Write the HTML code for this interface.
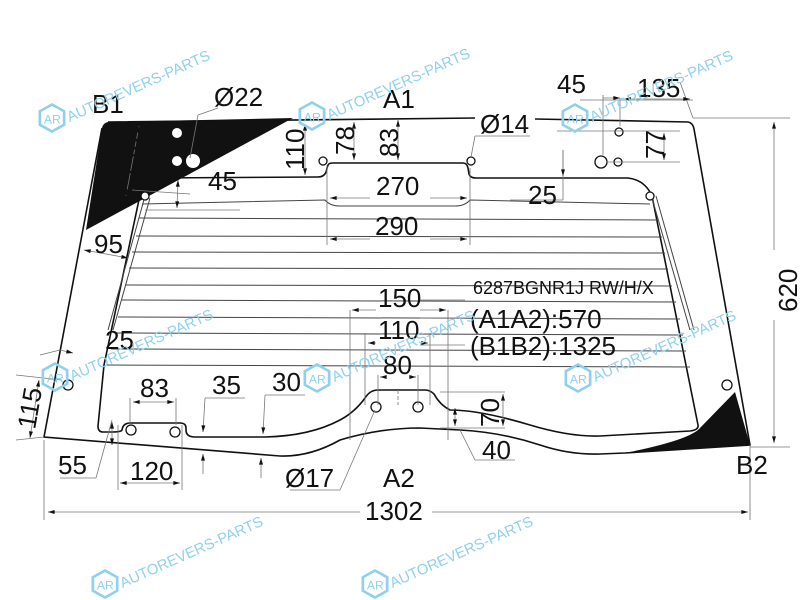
<!DOCTYPE html>
<html><head><meta charset="utf-8"><style>
html,body{margin:0;padding:0;background:#fff;width:800px;height:600px;overflow:hidden}
svg{display:block;overflow:hidden}
text{font-family:"Liberation Sans",Arial,sans-serif;fill:#111}
.d{stroke:#777;stroke-width:0.8;fill:none}
.m{stroke:#111;stroke-width:1.6;fill:none}
.h{stroke:#444;stroke-width:1;fill:none}
.w{fill:#8fd0ee;font-size:11px}
</style></head><body>
<svg width="800" height="600" viewBox="0 0 800 600" xmlns="http://www.w3.org/2000/svg">
<defs>
<marker id="a" viewBox="0 0 10 6" refX="10" refY="3" markerWidth="9" markerHeight="5" orient="auto-start-reverse"><path d="M0,0 L10,3 L0,6z" fill="#111"/></marker>
<g id="wm"><g transform="scale(1.35)"><polygon points="0,-10 9,-5 9,5 0,10 -9,5 -9,-5" fill="none" stroke="#8fd0ee" stroke-width="2"/><text x="-6" y="4" class="w" style="font-size:9px">AR</text><text x="13" y="3" class="w" transform="rotate(-24 13 3)">AUTOREVERS-PARTS</text></g></g>
</defs>
<path d="M108,122 L293,118 L86,230 L102,128 Q103,123 108,122z" fill="#111"/>
<path d="M735,392 L750,445 L625,453 Q690,440 700,428z" fill="#111"/>

<path class="m" d="M108,122 L475,118 M535,119 L688,122 Q693,123 694,129 L750,445 L625,453 L600,454 Q570,455 540,445 Q500,432 460,430 L420,428 Q380,428 340,440 Q310,457 280,456 L44,437 L102,128"/>
<path class="m" d="M150,178 L318,177 Q326,177 327,168 L328,165 Q329,163 333,163 L463,163 Q467,163 468,168 L469,174 Q470,178 476,178 L628,178 Q645,180 652,196 L698,425 Q699,430 690,431 L600,436 Q570,437 530,425 Q480,410 450,410 Q440,405 434,394 Q430,390 425,390 L378,390 Q370,390 365,398 Q355,412 340,420 Q310,436 265,437 L195,437 Q186,437 186,430 L186,428 Q186,423 180,423 L130,423 Q123,423 122,430 Q121,432 112,432 L103,432 Q98,432 98,426 L104,365 L140,195 Q143,185 150,178"/>
<path class="h" d="M145,196 L108,330 M150,198 L113,330"/>
<path class="h" d="M652,198 L690,330 M656,196 L694,330"/>
<path class="h" d="M142,204 L325,200 Q330,206 340,206 L455,206 Q465,206 470,200 L650,204"/>
<g class="h">
<line x1="139" y1="218" x2="657" y2="220"/>
<line x1="136" y1="236" x2="662" y2="237"/>
<line x1="132" y1="252" x2="665" y2="253"/>
<line x1="129" y1="268" x2="668" y2="269"/>
<line x1="125" y1="285" x2="672" y2="286"/>
<line x1="122" y1="300" x2="676" y2="302"/>
<line x1="118" y1="317" x2="680" y2="319"/>
<line x1="115" y1="333" x2="683" y2="335"/>
<line x1="111" y1="349" x2="686" y2="351"/>
<line x1="107" y1="365" x2="690" y2="367"/>
</g>

<g fill="#fff" stroke="#111" stroke-width="1.3">
<circle cx="323" cy="161" r="4"/><circle cx="471" cy="161" r="4"/>
<circle cx="619" cy="132" r="4"/><circle cx="601" cy="162" r="6"/><circle cx="618" cy="162" r="4"/>
<circle cx="68" cy="385" r="5"/><circle cx="131" cy="430" r="5"/><circle cx="175" cy="432" r="5"/>
<circle cx="376" cy="407" r="5"/><circle cx="418" cy="407" r="5"/><circle cx="727" cy="385" r="5"/>
<circle cx="145" cy="196" r="4"/><circle cx="650" cy="196" r="4"/>
</g>
<g fill="#fff"><circle cx="177" cy="133" r="5"/><circle cx="177" cy="161" r="5"/><circle cx="193" cy="161" r="7"/></g>

<g class="d">
<line x1="44" y1="440" x2="44" y2="520"/><line x1="750" y1="445" x2="750" y2="520"/>
<line x1="693" y1="118" x2="790" y2="118"/><line x1="750" y1="447" x2="790" y2="447"/>
<line x1="680" y1="82" x2="693" y2="118"/><line x1="580" y1="100" x2="693" y2="100"/>
<line x1="603" y1="95" x2="603" y2="155"/><line x1="620" y1="98" x2="620" y2="126"/>
<line x1="557" y1="131" x2="680" y2="131"/><line x1="606" y1="162" x2="680" y2="162"/>
<line x1="327" y1="165" x2="327" y2="245"/><line x1="470" y1="168" x2="470" y2="245"/>
<line x1="563" y1="150" x2="563" y2="200"/><line x1="510" y1="200" x2="563" y2="200"/>
<line x1="132" y1="190" x2="190" y2="194"/><line x1="145" y1="210" x2="240" y2="210"/>
<line x1="350" y1="310" x2="350" y2="440"/><line x1="448" y1="310" x2="448" y2="440"/>
<line x1="365" y1="333" x2="365" y2="405"/><line x1="430" y1="333" x2="430" y2="405"/>
<line x1="378" y1="375" x2="378" y2="405"/><line x1="418" y1="375" x2="418" y2="405"/>
<line x1="398" y1="390" x2="398" y2="405" stroke-dasharray="4 2"/>
<line x1="440" y1="392" x2="505" y2="392"/><line x1="440" y1="428" x2="505" y2="428"/>
<line x1="460" y1="430" x2="475" y2="460"/><line x1="475" y1="460" x2="515" y2="460"/>
<line x1="130" y1="398" x2="130" y2="425"/><line x1="176" y1="398" x2="176" y2="425"/>
<line x1="118" y1="425" x2="118" y2="490"/><line x1="182" y1="425" x2="182" y2="490"/>
<line x1="205" y1="398" x2="245" y2="398"/><line x1="265" y1="395" x2="305" y2="395"/>
<line x1="60" y1="478" x2="96" y2="478"/><line x1="96" y1="478" x2="112" y2="420"/>
<line x1="290" y1="490" x2="340" y2="490"/><line x1="340" y1="490" x2="375" y2="410"/>
<line x1="198" y1="115" x2="218" y2="108"/><line x1="198" y1="115" x2="190" y2="158"/>
<line x1="475" y1="136" x2="530" y2="136"/><line x1="475" y1="136" x2="471" y2="157"/>
<line x1="40" y1="355" x2="60" y2="350"/><line x1="16" y1="440" x2="44" y2="437"/><line x1="16" y1="375" x2="62" y2="380"/>
<line x1="420" y1="300" x2="465" y2="300"/><line x1="420" y1="318" x2="465" y2="318"/>
<line x1="420" y1="345" x2="465" y2="345"/>
</g>
<g class="d" stroke="#444">
<line x1="48" y1="512" x2="360" y2="512" marker-start="url(#a)"/><line x1="432" y1="512" x2="748" y2="512" marker-end="url(#a)"/>
<line x1="774" y1="122" x2="774" y2="250" marker-start="url(#a)"/><line x1="774" y1="320" x2="774" y2="443" marker-end="url(#a)"/>
<line x1="603" y1="98" x2="620" y2="98" marker-end="url(#a)"/><line x1="624" y1="99" x2="690" y2="99" marker-start="url(#a)" marker-end="url(#a)"/>
<line x1="664" y1="133" x2="664" y2="160" marker-start="url(#a)" marker-end="url(#a)"/>
<line x1="305" y1="124" x2="305" y2="175" marker-start="url(#a)" marker-end="url(#a)"/>
<line x1="354" y1="122" x2="354" y2="160" marker-start="url(#a)" marker-end="url(#a)"/>
<line x1="398" y1="120" x2="398" y2="160" marker-start="url(#a)" marker-end="url(#a)"/>
<line x1="330" y1="198" x2="370" y2="198" marker-start="url(#a)"/><line x1="430" y1="198" x2="467" y2="198" marker-end="url(#a)"/>
<line x1="330" y1="239" x2="370" y2="239" marker-start="url(#a)"/><line x1="430" y1="239" x2="467" y2="239" marker-end="url(#a)"/>
<line x1="563" y1="150" x2="563" y2="176" marker-end="url(#a)"/>
<line x1="178" y1="180" x2="177" y2="208" marker-start="url(#a)" marker-end="url(#a)"/>
<line x1="139" y1="126" x2="126" y2="196" marker-start="url(#a)" marker-end="url(#a)"/>
<line x1="84" y1="250" x2="128" y2="258" marker-start="url(#a)" marker-end="url(#a)"/>
<line x1="352" y1="310" x2="376" y2="310" marker-start="url(#a)"/><line x1="420" y1="310" x2="446" y2="310" marker-end="url(#a)"/>
<line x1="368" y1="343" x2="376" y2="343" marker-start="url(#a)"/><line x1="420" y1="343" x2="428" y2="343" marker-end="url(#a)"/>
<line x1="380" y1="377" x2="384" y2="377" marker-start="url(#a)"/><line x1="412" y1="377" x2="416" y2="377" marker-end="url(#a)"/>
<line x1="503" y1="394" x2="503" y2="426" marker-start="url(#a)" marker-end="url(#a)"/>
<line x1="455" y1="408" x2="455" y2="426" marker-start="url(#a)" marker-end="url(#a)"/>
<line x1="133" y1="402" x2="174" y2="402" marker-start="url(#a)" marker-end="url(#a)"/>
<line x1="120" y1="483" x2="180" y2="483" marker-start="url(#a)" marker-end="url(#a)"/>
<line x1="205" y1="398" x2="203" y2="432" marker-end="url(#a)"/><line x1="203" y1="474" x2="203" y2="454" marker-end="url(#a)"/>
<line x1="265" y1="395" x2="263" y2="434" marker-end="url(#a)"/><line x1="261" y1="478" x2="261" y2="458" marker-end="url(#a)"/>
<line x1="112" y1="422" x2="112" y2="445" marker-start="url(#a)" marker-end="url(#a)"/>
<line x1="39" y1="380" x2="30" y2="438" marker-start="url(#a)" marker-end="url(#a)"/>
<line x1="60" y1="350" x2="73" y2="353" marker-end="url(#a)"/>
</g>

<g font-size="26">
<text x="92" y="113">B1</text><text x="214" y="106">Ø22</text><text x="383" y="108">A1</text>
<text x="480" y="133">Ø14</text><text x="557" y="93">45</text><text x="637" y="97">135</text>
<text x="208" y="190">45</text><text x="376" y="195">270</text><text x="528" y="204">25</text>
<text x="375" y="235">290</text><text x="94" y="253">95</text>
<text x="378" y="307">150</text><text x="470" y="328">(A1A2):570</text><text x="378" y="339">110</text>
<text x="470" y="355">(B1B2):1325</text><text x="105" y="349">25</text><text x="383" y="374">80</text>
<text x="140" y="397">83</text><text x="212" y="394">35</text><text x="272" y="391">30</text>
<text x="58" y="474">55</text><text x="130" y="480">120</text><text x="482" y="459">40</text>
<text x="285" y="487">Ø17</text><text x="383" y="487">A2</text><text x="736" y="474">B2</text>
<text x="365" y="520">1302</text>
<text transform="translate(132,180) rotate(-80)">145</text>
<text transform="translate(304,170) rotate(-90)">110</text>
<text transform="translate(354,155) rotate(-90)">78</text>
<text transform="translate(398,157) rotate(-90)">83</text>
<text transform="translate(664,159) rotate(-90)">77</text>
<text transform="translate(797,312) rotate(-90)">620</text>
<text transform="translate(35,430) rotate(-80)">115</text>
<text transform="translate(499,427) rotate(-90)">70</text>
</g>
<text x="473" y="294" font-size="18">6287BGNR1J RW/H/X</text>

<use href="#wm" x="52" y="118"/><use href="#wm" x="312" y="116"/><use href="#wm" x="575" y="118"/>
<use href="#wm" x="55" y="377"/><use href="#wm" x="317" y="378"/><use href="#wm" x="578" y="378"/>
<use href="#wm" x="105" y="584"/><use href="#wm" x="375" y="584"/>
</svg>
</body></html>
